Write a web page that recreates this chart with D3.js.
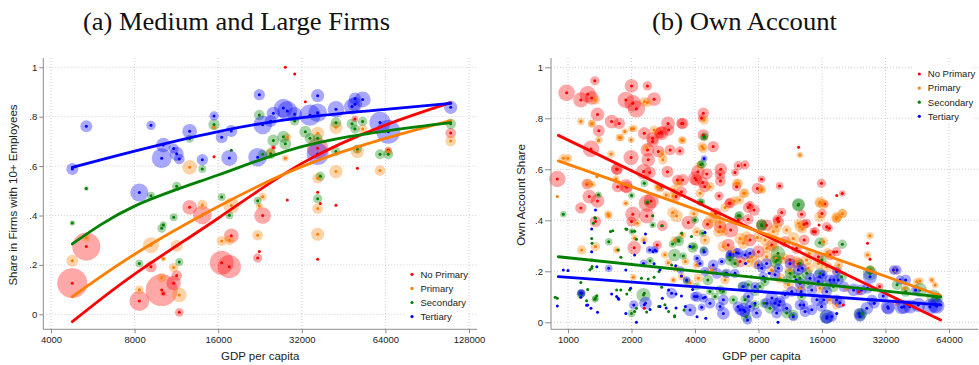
<!DOCTYPE html>
<html>
<head>
<meta charset="utf-8">
<script src="https://cdn.jsdelivr.net/npm/d3@7"></script>
<style>
  body { margin: 0; background: #fff; }
  text { font-family: "Liberation Sans", Arial, Helvetica, sans-serif; fill: #222; }
</style>
</head>
<body>
<svg id="chart" width="979" height="365"></svg>
<script>
// Education groups, colours and legend order
const groups = ["No Primary", "Primary", "Secondary", "Tertiary"];
const groupColors = ["#ff0000", "#ff7f00", "#008000", "#0000ff"];

// Panel (a): share of workers in firms with 10+ employees. Rows: [GDP per capita, share, weight]
const firmsNoPrimary = [[4773,.126,88],[5361,.274,77],[8321,.054,39],[9164,.193,12.5],[10013,.098,100],[10152,.084,2.8],[11060,.126,21],[11340,.157,11],[11592,.008,7.3],[12628,.433,21],[14028,.402,34],[15456,.638,.3],[16468,.209,56],[17548,.193,53],[17840,.318,21],[22192,.228,8.5],[22504,.254,.3],[23132,.40,27],[25276,.675,2.8],[24724,.641,.3],[27916,1.0,.3],[30164,.973,.3],[28384,.463,.3],[32948,.861,.3],[36500,.672,44],[36500,.494,.3],[37316,.449,.3],[36500,.223,.3],[42480,.441,.3],[50720,.591,.3],[49720,.791,4.3],[65560,.665,4.3],[109960,.734,11]];
const firmsPrimary = [[4773,.217,14],[5361,.31,6.25],[8321,.099,7.3],[9164,.28,25],[10013,.148,8.5],[10152,.225,2.8],[11060,.189,8.5],[11340,.277,14],[11592,.078,21],[12628,.595,21],[14028,.443,9.8],[15456,.757,2.8],[16468,.297,9.8],[17548,.30,9.8],[17840,.44,25],[22192,.32,11],[22504,.438,4.3],[23132,.476,6.25],[24724,.656,8.5],[27916,.632,4.3],[28384,.717,6.25],[36500,.551,11],[36500,.428,11],[36500,.324,17],[36500,.733,17],[42480,.757,17],[42480,.578,17],[50720,.659,17],[53000,.75,8.5],[61200,.582,11],[65560,.659,6.25],[109960,.702,11]];
const firmsSecondary = [[4773,.37,2.8],[5361,.509,2.2],[8321,.206,6.25],[9164,.48,6.25],[10013,.348,7.3],[10152,.363,4.3],[11060,.393,6.25],[11340,.518,8.5],[11592,.212,6.25],[12628,.711,6.25],[14028,.588,6.25],[15456,.768,12.5],[16468,.475,6.25],[17548,.401,6.25],[17840,.664,.3],[22192,.46,6.25],[22504,.807,11],[23132,.648,8.5],[24724,.65,11],[25276,.704,14],[27460,.719,14],[27916,.69,14],[30164,.783,8.5],[32948,.739,14],[34248,.713,11],[36500,.713,8.5],[37316,.559,8.5],[36500,.468,8.5],[42480,.776,11],[42480,.659,8.5],[48520,.771,11],[49720,.75,8.5],[50720,.669,8.5],[53000,.781,8.5],[61200,.648,9.8],[65560,.648,9.8],[109960,.771,11]];
const firmsTertiary = [[4773,.588,14],[5361,.761,14],[8321,.493,32],[9164,.765,8.5],[10013,.632,39],[10152,.685,21],[11060,.671,10],[11340,.650,19],[11592,.629,11],[12628,.741,21],[14028,.626,12.5],[15456,.803,8.5],[16468,.717,14],[17548,.633,25],[17840,.742,14],[22192,.636,34],[22504,.889,12.5],[23132,.767,34],[24724,.783,14],[25276,.814,17],[27460,.835,34],[28384,.823,39],[30164,.81,21],[34248,.806,44],[36500,.885,17],[36500,.816,34],[36500,.649,47],[42480,.83,27],[48520,.841,25],[49720,.874,14],[49720,.85,21],[53000,.87,25],[61200,.777,44],[65560,.739,56],[109960,.838,17]];

// Panel (a) fitted curves: [GDP per capita, fitted share]
const firmsFitNoPrimary = [[4773,-.030],[8000,.163],[16000,.389],[32000,.611],[64000,.766],[110000,.857]];
const firmsFitPrimary = [[4773,.071],[8000,.243],[16000,.436],[32000,.598],[64000,.712],[110000,.784]];
const firmsFitSecondary = [[4773,.285],[8000,.438],[16000,.564],[32000,.679],[64000,.742],[110000,.776]];
const firmsFitTertiary = [[4773,.595],[8000,.661],[16000,.740],[32000,.796],[64000,.830],[110000,.854]];

// Panel (b): own-account share. Rows: [GDP per capita, share, weight]
const ownNoPrimary = [[890,.562,19],[985,.90,19],[1150,.872,16],[1240,.894,19],[1295,.88,13],[1340,.947,6],[1380,.815,13],[1400,.751,10],[1285,.68,19],[1150,.448,9],[1262,.493,13],[1230,.542,8],[1380,.476,13],[1350,.395,9],[1700,.601,9],[1610,.787,13],[1750,.78,9],[1720,.532,9],[1880,.535,13],[1880,.872,19],[2030,.859,19],[2110,.837,21],[2000,.927,13],[2380,.927,6],[2560,.875,13],[1990,.646,16],[2030,.424,16],[2000,.395,7],[2060,.292,13],[2300,.741,11],[2380,.676,13],[2400,.637,13],[2280,.591,16],[2520,.722,11],[2700,.741,8],[2780,.741,13],[2980,.78,13],[3458,.78,8],[3390,.672,6],[3050,.676,8],[2380,.467,21],[2480,.476,16],[2360,.417,16],[2800,.379,8],[2650,.303,6],[2750,.529,4],[3300,.558,8],[3450,.512,8],[3250,.493,6],[3720,.391,13],[4381,.82,9],[4300,.80,4],[4381,.735,9],[4880,.689,9],[4000,.565,13],[4130,.59,13],[4350,.548,9],[4550,.582,9],[4450,.532,9],[5300,.60,11],[5260,.58,8],[5280,.554,8],[5200,.495,6],[5800,.467,6],[6300,.532,6],[6420,.614,6],[6900,.617,6],[6190,.587,4],[5900,.362,16],[7290,.46,5],[7620,.44,9],[7900,.525,9],[8270,.561,4],[10070,.535,4],[10300,.431,6],[9900,.408,.3],[12400,.686,.3],[12800,.424,6],[13534,.388,6],[14560,.356,4],[15900,.545,6],[16000,.427,6],[16500,.464,4],[17300,.369,4],[18800,.497,.3],[19970,.505,3],[18200,.276,.3],[26300,.31,.3],[27020,.247,.3],[15500,.382,.3],[8280,.381,9],[9950,.395,9],[9250,.303,9],[10690,.316,9],[12120,.29,8],[13170,.323,8],[14860,.355,6],[16830,.375,6],[18760,.277,6],[11280,.244,9],[12350,.231,9],[6540,.238,9],[7990,.277,11],[8740,.381,9],[7290,.323,11],[5750,.303,11],[5260,.375,11],[15380,.257,8],[17460,.264,8],[7150,.45,8],[5860,.467,8],[9800,.404,6],[13170,.385,6],[7150,.404,8],[6420,.401,8],[4590,.385,9],[5020,.428,9],[2440,.587,10],[2960,.59,10],[3500,.558,10],[4060,.558,10],[1710,.60,9],[1900,.53,10],[2680,.67,10],[3500,.78,9],[2520,.709,10],[2760,.745,10],[3000,.754,9],[20195,.068,.3],[24000,.12,4],[30000,.14,4],[36000,.08,4],[2300,.055,.3]];
const ownPrimary = [[890,.493,.3],[950,.643,5],[1000,.643,5],[1150,.787,4],[1295,.778,4],[1350,.872,6],[1395,.712,.3],[1370,.571,.3],[1240,.545,6],[1160,.284,6],[1350,.297,6],[1560,.418,4],[1700,.284,4],[1780,.724,4],[1860,.748,3],[2000,.758,3],[1990,.715,3],[1880,.467,3],[2070,.33,3],[2300,.865,6],[2560,.754,6],[2800,.66,6],[2820,.637,6],[2660,.532,4],[3160,.166,3],[3458,.715,4],[3480,.342,4],[3330,.545,6],[3150,.495,6],[3270,.417,11],[3130,.431,8],[2990,.234,4],[4381,.682,6],[4420,.793,6],[4230,.506,6],[4710,.532,6],[4710,.395,11],[5000,.414,11],[5260,.391,9],[5450,.356,6],[6300,.545,6],[6500,.48,6],[6800,.506,6],[7000,.336,8],[7900,.333,6],[8300,.519,3],[8746,.29,6],[9406,.356,11],[9700,.251,8],[10880,.362,6],[11700,.329,11],[12400,.388,6],[12580,.656,3],[12900,.366,6],[13900,.27,6],[15600,.467,6],[15600,.414,8],[16300,.316,6],[17000,.273,6],[18900,.41,6],[19970,.427,6],[19200,.225,6],[21000,.133,4],[26300,.264,4],[27000,.339,4],[27100,.205,6],[35500,.203,6],[39500,.133,4],[45000,.159,4],[53000,.166,3],[55000,.146,3],[57000,.101,4],[46630,.162,4],[4080,.355,6],[4460,.323,8],[5170,.355,8],[5450,.297,9],[6080,.277,9],[6540,.329,9],[6780,.31,9],[7410,.257,9],[7830,.231,9],[8590,.323,9],[8740,.257,9],[9410,.297,9],[10490,.251,9],[11280,.205,9],[12120,.238,9],[13530,.244,9],[13770,.212,9],[15380,.231,9],[16830,.218,9],[18760,.205,8],[4800,.205,8],[4150,.173,6],[5550,.166,6],[7160,.238,8],[9240,.205,8],[10120,.173,8],[11090,.147,8],[12580,.134,8],[15660,.134,8],[17460,.088,6],[18760,.068,6],[1550,.425,4],[2130,.388,4],[2920,.499,4],[2290,.323,4],[3200,.323,4],[2880,.265,4],[2040,.177,3],[3250,.212,4],[3450,.18,4],[4060,.225,4],[3600,.238,4],[3790,.154,4],[1300,.78,4],[1400,.715,4],[1600,.66,4],[1750,.725,4],[2050,.76,4],[2380,.862,6],[3500,.713,4],[2360,.685,4],[2720,.527,6],[3180,.52,6],[1690,.562,4],[1300,.54,4],[4320,.689,6],[6420,.545,6],[8270,.522,6],[6900,.506,6],[6130,.476,6],[15650,.472,8],[16200,.463,8],[18760,.412,8],[5550,.45,6],[4225,.614,6],[3950,.426,6],[9750,.375,8],[12580,.375,8],[18700,.406,6],[19970,.426,6]];
const ownSecondary = [[890,.094,.3],[950,.424,3],[1150,.156,.3],[1150,.11,5],[1240,.129,.3],[1295,.212,.3],[1295,.329,.3],[1350,.408,.3],[1350,.094,3],[1395,.5,3],[1560,.316,4],[1630,.359,.3],[1700,.127,.3],[1780,.255,.3],[1880,.366,.3],[2000,.497,3],[2010,.356,3],[2000,.035,4],[2300,.545,4],[2380,.471,3],[2280,.107,14],[2450,.241,4],[2520,.382,3],[2700,.199,.3],[2780,.137,.3],[3130,.307,4],[3200,.264,11],[3350,.319,8],[3458,.349,.3],[3520,.26,4],[3200,.026,.3],[3650,.162,4],[3900,.294,8],[4300,.471,4],[4350,.349,4],[4330,.621,6],[4420,.725,4],[4600,.166,8],[5260,.127,6],[5860,.244,8],[6500,.418,6],[6700,.14,6],[7000,.022,8],[7400,.179,.3],[8300,.379,8],[8500,.075,6],[9900,.271,14],[9650,.238,11],[10880,.166,6],[12400,.463,11],[12580,.231,4],[12800,.101,6],[13534,.192,8],[15600,.312,8],[16000,.244,6],[16800,.022,14],[19970,.306,6],[19800,.179,8],[24700,.035,8],[27020,.192,14],[46630,.127,14],[54000,.101,14],[36300,.147,8],[39900,.121,8],[56000,.092,10],[24220,.03,11],[27020,.205,6],[3950,.297,4],[4390,.284,4],[5860,.257,6],[6190,.231,6],[5550,.192,4],[7160,.147,6],[7700,.121,6],[8130,.14,6],[8590,.16,6],[9830,.244,8],[11280,.192,8],[11880,.179,8],[12580,.173,8],[13770,.153,8],[15660,.192,8],[16830,.147,8],[18110,.14,8],[4080,.14,4],[4710,.121,4],[4980,.101,4],[5450,.121,4],[6080,.088,6],[6900,.088,6],[7700,.068,6],[9070,.055,8],[10880,.036,8],[11680,.029,8],[1340,.41,.3],[1320,.388,.3],[1300,.31,.3],[1590,.356,.3],[1900,.365,.3],[2070,.357,.3],[2110,.326,.3],[2520,.418,.3],[2780,.379,.3],[3340,.323,3],[3850,.336,.3],[4000,.401,.3],[1270,.206,.3],[1300,.219,.3],[1730,.284,.3],[1780,.127,.3],[1900,.111,.3],[1960,.127,.3],[870,.098,.3],[1160,.114,4],[1370,.104,.3],[1340,.09,3],[1225,.085,.3],[2300,.114,.3],[2360,.04,.3],[2070,.042,.3],[2690,.062,.3],[2880,.069,.3],[3000,.042,.3],[3200,.022,.3],[3550,.048,.3],[2110,.055,.3],[2230,.173,.3],[2400,.17,.3],[2560,.177,.3],[3100,.225,.3],[4420,.73,4],[4260,.619,4],[4225,.472,4],[12350,.459,11],[8270,.384,8],[6420,.418,4],[4000,.401,4]];
const ownTertiary = [[890,.064,.3],[950,.205,.3],[1000,.203,.3],[1150,.116,4],[1150,.098,.3],[1240,.068,.3],[1285,.055,.3],[1295,.366,.3],[1295,.277,.3],[1300,.244,.3],[1350,.44,.3],[1370,.218,.3],[1380,.039,.3],[1560,.212,4],[1700,.101,.3],[1740,.09,.3],[1880,.205,.3],[1880,.035,.3],[2050,.068,6],[2110,0,.3],[2300,.312,.3],[2330,.346,.3],[2280,.231,4],[2330,.075,11],[2530,.277,.3],[2580,.284,4],[2800,.094,.3],[3100,.114,8],[3240,.222,.3],[3420,.205,4],[3790,.048,11],[3900,.129,.3],[4300,.059,4],[4420,.642,3],[4460,.352,.3],[4500,.016,.3],[4470,.098,.3],[1160,.114,4],[1225,.067,.3],[1610,.111,.3],[1730,.094,.3],[1980,.134,.3],[2440,.284,4],[2620,.28,.3],[2070,.264,.3],[2730,.206,.3],[3450,.182,.3],[3650,.166,4],[3000,.127,.3],[3250,.111,.3],[3450,.103,.3],[4090,.101,8],[2300,.069,.3],[2450,.05,.3],[2730,.062,.3],[2920,.056,.3],[3250,.056,.3],[3600,.062,.3],[4090,.022,.3],[3790,.297,.3],[4090,.251,4],[2560,.23,.3],[4420,.277,6],[4225,.231,4],[4880,.225,8],[5350,.238,4],[5861,.264,6],[6420,.271,8],[6900,.264,6],[7290,.271,8],[7990,.225,6],[8740,.231,8],[9580,.186,8],[9950,.212,6],[11280,.231,8],[12350,.205,8],[12900,.212,6],[14040,.173,8],[15380,.160,8],[16200,.186,6],[17460,.166,8],[19100,.166,8],[4460,.199,6],[5080,.192,8],[5650,.192,6],[6190,.192,6],[6780,.14,8],[7160,.101,8],[7700,.14,6],[8430,.179,6],[9250,.095,11],[9580,.075,8],[10120,.082,8],[10690,.108,6],[11500,.121,8],[12740,.121,8],[14310,.127,8],[15140,.088,11],[16830,.121,8],[3990,.101,6],[4380,.095,6],[4710,.075,8],[5260,.062,6],[5450,.088,8],[6540,.049,8],[6900,.042,8],[7290,.062,8],[7830,.036,8],[8740,.075,8],[9750,.036,8],[10880,.055,8],[12580,.068,8],[13300,.042,8],[14310,.049,8],[15920,.062,8],[16830,.016,8],[18760,.088,8],[5450,.035,11],[5860,.268,4],[6300,.273,6],[6400,.061,8],[6800,.048,14],[7100,.009,6],[6950,.231,.3],[7700,.075,.3],[8300,.212,6],[9900,0,.3],[9000,.192,.3],[10000,.068,14],[11700,.022,6],[12050,.166,.3],[12600,.153,8],[13100,.068,6],[15600,.179,14],[16300,.088,8],[16900,.022,14],[18800,.035,.3],[22600,.127,11],[24000,.035,8],[27020,.179,14],[28300,.075,8],[32800,.061,14],[34900,.205,6],[37490,.166,6],[39200,.061,14],[44500,.127,6],[52000,.061,17],[55000,.068,17],[18800,.199,6],[24600,.127,8],[26300,.134,8],[26100,.055,11],[24220,.023,8],[36300,.205,6],[39900,.166,8],[33000,.055,11],[38200,.059,14],[41810,.062,14],[45800,.068,14],[56000,.064,17],[27600,.088,8],[20300,.14,8],[19475,.077,8],[17800,.023,8],[31200,.103,8],[18200,.166,8]];

// Panel (b) fitted lines: [GDP per capita, fitted share]
const ownFitNoPrimary = [[900,.733],[58400,.009]];
const ownFitPrimary = [[900,.633],[58400,.104]];
const ownFitSecondary = [[900,.257],[58400,.100]];
const ownFitTertiary = [[900,.179],[58400,.068]];

// Axis ticks
const firmsXTicks = [4000, 8000, 16000, 32000, 64000, 128000];
const ownXTicks = [1000, 2000, 4000, 8000, 16000, 32000, 64000];
const shareTicks = [0, .2, .4, .6, .8, 1];
const shareTickLabels = ["0", ".2", ".4", ".6", ".8", "1"];

const svg = d3.select("#chart");

function drawPanel(cfg) {
  const g = svg.append("g");
  const x = d3.scaleLog().base(2).domain(cfg.xDomain).range(cfg.xRange);
  const y = d3.scaleLinear().domain([0, 1]).range(cfg.yRange);
  const radius = d3.scaleSqrt().domain([0, 100]).range([0, cfg.maxRadius]);
  const f = cfg.frame;

  // dotted grid
  g.append("g").selectAll("line").data(shareTicks).join("line")
    .attr("x1", f.left).attr("x2", f.right)
    .attr("y1", d => y(d)).attr("y2", d => y(d))
    .attr("stroke", "#c4c4c4").attr("stroke-width", 0.8).attr("stroke-dasharray", "1,2");
  g.append("g").selectAll("line").data(cfg.xTicks).join("line")
    .attr("x1", d => x(d)).attr("x2", d => x(d))
    .attr("y1", f.top).attr("y2", f.bottom)
    .attr("stroke", "#c4c4c4").attr("stroke-width", 0.8).attr("stroke-dasharray", "1,2");

  // bubbles, then centre dots
  const bubbles = g.append("g");
  cfg.series.forEach((s, i) => {
    bubbles.append("g").selectAll("circle").data(s).join("circle")
      .attr("cx", d => x(d[0])).attr("cy", d => y(d[1])).attr("r", d => radius(d[2]))
      .attr("fill", groupColors[i]).attr("fill-opacity", 0.34);
  });
  const dots = g.append("g");
  cfg.series.forEach((s, i) => {
    dots.append("g").selectAll("circle").data(s).join("circle")
      .attr("cx", d => x(d[0])).attr("cy", d => y(d[1])).attr("r", 1.5)
      .attr("fill", groupColors[i]);
  });

  // fitted lines
  const line = d3.line().x(d => x(d[0])).y(d => y(d[1])).curve(d3.curveNatural);
  cfg.fits.forEach((s, i) => {
    g.append("path").datum(s).attr("d", line)
      .attr("fill", "none").attr("stroke", groupColors[i]).attr("stroke-width", 2.8)
      .attr("stroke-linecap", "round");
  });

  // axes
  const axisColor = "#8c8c8c";
  const xAxis = g.append("g").attr("transform", `translate(0,${f.bottom})`)
    .call(d3.axisBottom(x).tickValues(cfg.xTicks).tickFormat(d3.format("d")).tickSize(4).tickSizeOuter(0).tickPadding(3));
  xAxis.select(".domain").attr("d", `M${f.left},0H${f.right}`);
  const yAxis = g.append("g").attr("transform", `translate(${f.left},0)`)
    .call(d3.axisLeft(y).tickValues(shareTicks).tickFormat((d, i) => shareTickLabels[i]).tickSize(cfg.yTick).tickPadding(2));
  yAxis.select(".domain").attr("d", `M0,${f.top}V${f.bottom}`);
  [xAxis, yAxis].forEach(a => {
    a.selectAll(".domain, .tick line").attr("stroke", axisColor).attr("stroke-width", 1);
    a.selectAll("text").attr("font-size", 9.5).attr("fill", "#222")
      .attr("font-family", "'Liberation Sans', Arial, sans-serif");
  });

  // axis titles
  g.append("text").attr("x", (f.left + f.right) / 2 + cfg.xTitleShift).attr("y", 360)
    .attr("text-anchor", "middle").attr("font-size", 11.5).text("GDP per capita");
  g.append("text").attr("transform", `translate(${cfg.yTitleX},${cfg.yTitleY}) rotate(-90)`)
    .attr("text-anchor", "middle").attr("font-size", 11.5).text(cfg.yTitle);

  // panel title
  svg.append("text").attr("x", cfg.titleX).attr("y", 29.5).attr("text-anchor", "middle")
    .style("font-family", "'Liberation Serif', 'Times New Roman', serif")
    .attr("font-size", 25).attr("textLength", cfg.titleWidth).attr("lengthAdjust", "spacingAndGlyphs")
    .style("fill", "#111").text(cfg.title);

  // legend
  const L = cfg.legend;
  const leg = g.append("g");
  leg.append("rect").attr("x", L.x - 7).attr("y", L.y - 9).attr("width", L.w).attr("height", 58).attr("fill", "#fff");
  groups.forEach((name, i) => {
    leg.append("circle").attr("cx", L.x).attr("cy", L.y + i * 14.1).attr("r", 1.6).attr("fill", groupColors[i]);
    leg.append("text").attr("x", L.x + 8.5).attr("y", L.y + i * 14.1).attr("dy", "0.35em")
      .attr("font-size", 9.5).text(name);
  });
}

drawPanel({
  title: "(a) Medium and Large Firms", titleX: 236.5, titleWidth: 307,
  xDomain: [4000, 128000], xRange: [51, 469], yRange: [314.3, 67.3],
  frame: { left: 43.3, right: 477, top: 58, bottom: 329.3 },
  xTicks: firmsXTicks, yTick: 4, xTitleShift: 0, maxRadius: 16,
  yTitle: "Share in Firms with 10+ Employees", yTitleX: 17, yTitleY: 195,
  series: [firmsNoPrimary, firmsPrimary, firmsSecondary, firmsTertiary],
  fits: [firmsFitNoPrimary, firmsFitPrimary, firmsFitSecondary, firmsFitTertiary],
  legend: { x: 412, y: 274.3, w: 62 }
});

drawPanel({
  title: "(b) Own Account", titleX: 744.5, titleWidth: 185,
  xDomain: [1000, 64000], xRange: [568, 949], yRange: [322.3, 67.3],
  frame: { left: 551, right: 978, top: 58, bottom: 329.3 },
  xTicks: ownXTicks, yTick: 6, xTitleShift: -3, maxRadius: 19,
  yTitle: "Own Account Share", yTitleX: 525, yTitleY: 195,
  series: [ownNoPrimary, ownPrimary, ownSecondary, ownTertiary],
  fits: [ownFitNoPrimary, ownFitPrimary, ownFitSecondary, ownFitTertiary],
  legend: { x: 919.3, y: 74, w: 60 }
});
</script>
</body>
</html>
